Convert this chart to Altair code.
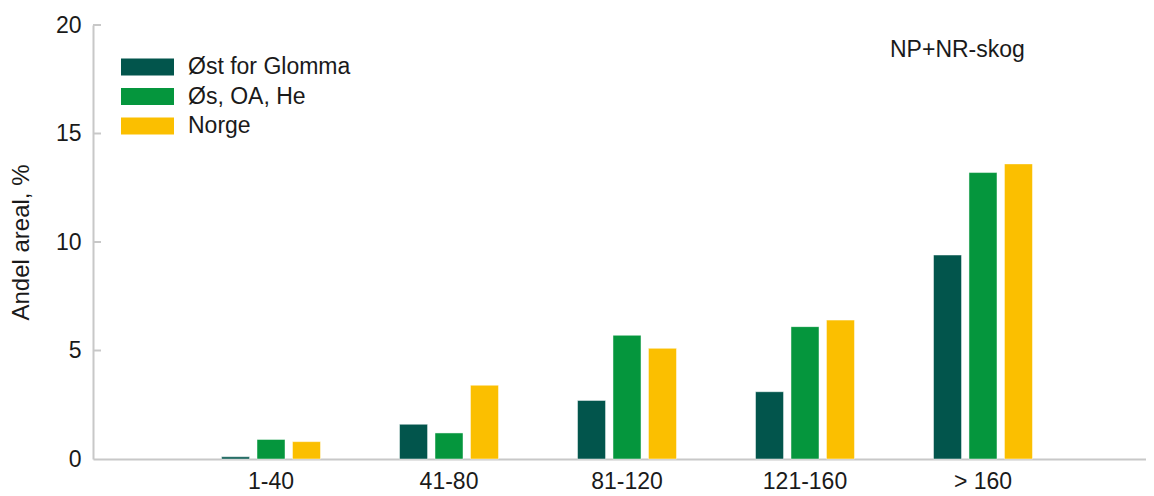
import altair as alt
import pandas as pd

categories = ["1-40", "41-80", "81-120", "121-160", "> 160"]
series = ["Øst for Glomma", "Øs, OA, He", "Norge"]
ost_for_glomma = [0.1, 1.6, 2.7, 3.1, 9.4]
os_oa_he = [0.9, 1.2, 5.7, 6.1, 13.2]
norge = [0.8, 3.4, 5.1, 6.4, 13.6]
colors = ["#02554C", "#05963D", "#FBBF00"]
y_ticks = [0, 5, 10, 15, 20]
note = "NP+NR-skog"
y_title = "Andel areal, %"

rows = []
for s, vals in zip(series, [ost_for_glomma, os_oa_he, norge]):
    for c, v in zip(categories, vals):
        rows.append({"Klasse": c, "Serie": s, "Andel": v})
df = pd.DataFrame(rows)

FONT = "Liberation Sans"
GREY = "#c8c8c8"
TXT = "#1a1a1a"

y_axis = alt.Axis(values=y_ticks, title=y_title, titleFontSize=24, titleFont=FONT,
                  titleFontWeight="normal", titleColor=TXT, titlePadding=22,
                  labelFontSize=23, labelFont=FONT, labelColor=TXT, labelPadding=12,
                  ticks=False, tickSize=0, grid=False, domainColor=GREY, domainWidth=2)

bars = alt.Chart(df).mark_bar(stroke="white", strokeWidth=0.8, strokeOpacity=0.6).encode(
    x=alt.X(
        "Klasse:N", sort=categories, title=None,
        scale=alt.Scale(paddingInner=0.444, paddingOuter=0.68, align=0.531),
        axis=alt.Axis(labelAngle=0, labelFontSize=23, labelFont=FONT, labelColor=TXT,
                      labelPadding=11, ticks=False, tickSize=0, domainColor=GREY, domainWidth=2),
    ),
    xOffset=alt.XOffset("Serie:N", sort=series, scale=alt.Scale(paddingInner=0.21, paddingOuter=0)),
    y=alt.Y("Andel:Q", scale=alt.Scale(domain=[0, 20], nice=False), axis=y_axis),
    color=alt.Color(
        "Serie:N", sort=series,
        scale=alt.Scale(domain=series, range=colors),
        legend=alt.Legend(title=None, orient="none", legendX=28, legendY=30,
                          symbolType="M-1,-0.32H1V0.32H-1Z", symbolSize=2809,
                          symbolStrokeWidth=0, symbolOpacity=1,
                          labelFontSize=23, labelFont=FONT, labelColor=TXT, labelLimit=400,
                          labelOffset=14, clipHeight=24, rowPadding=5.5, padding=0),
    ),
)

ticks = alt.Chart(pd.DataFrame({"Andel": y_ticks[1:]})).mark_rule(color=GREY, strokeWidth=2).encode(
    y=alt.Y("Andel:Q", axis=y_axis),
    x=alt.value(0),
    x2=alt.value(8),
)

label = alt.Chart(pd.DataFrame({"label": [note]})).mark_text(
    align="left", baseline="middle", fontSize=23, font=FONT, color=TXT
).encode(text="label:N", x=alt.value(797), y=alt.value(25))

chart = alt.layer(bars, ticks, label).properties(
    width=1053, height=434,
    padding={"left": 85, "top": 17, "right": 0, "bottom": 34},
    autosize=alt.AutoSizeParams(type="none"),
).configure_view(stroke=None)

chart.save("out.html", embed_options={"renderer": "svg", "actions": False})
